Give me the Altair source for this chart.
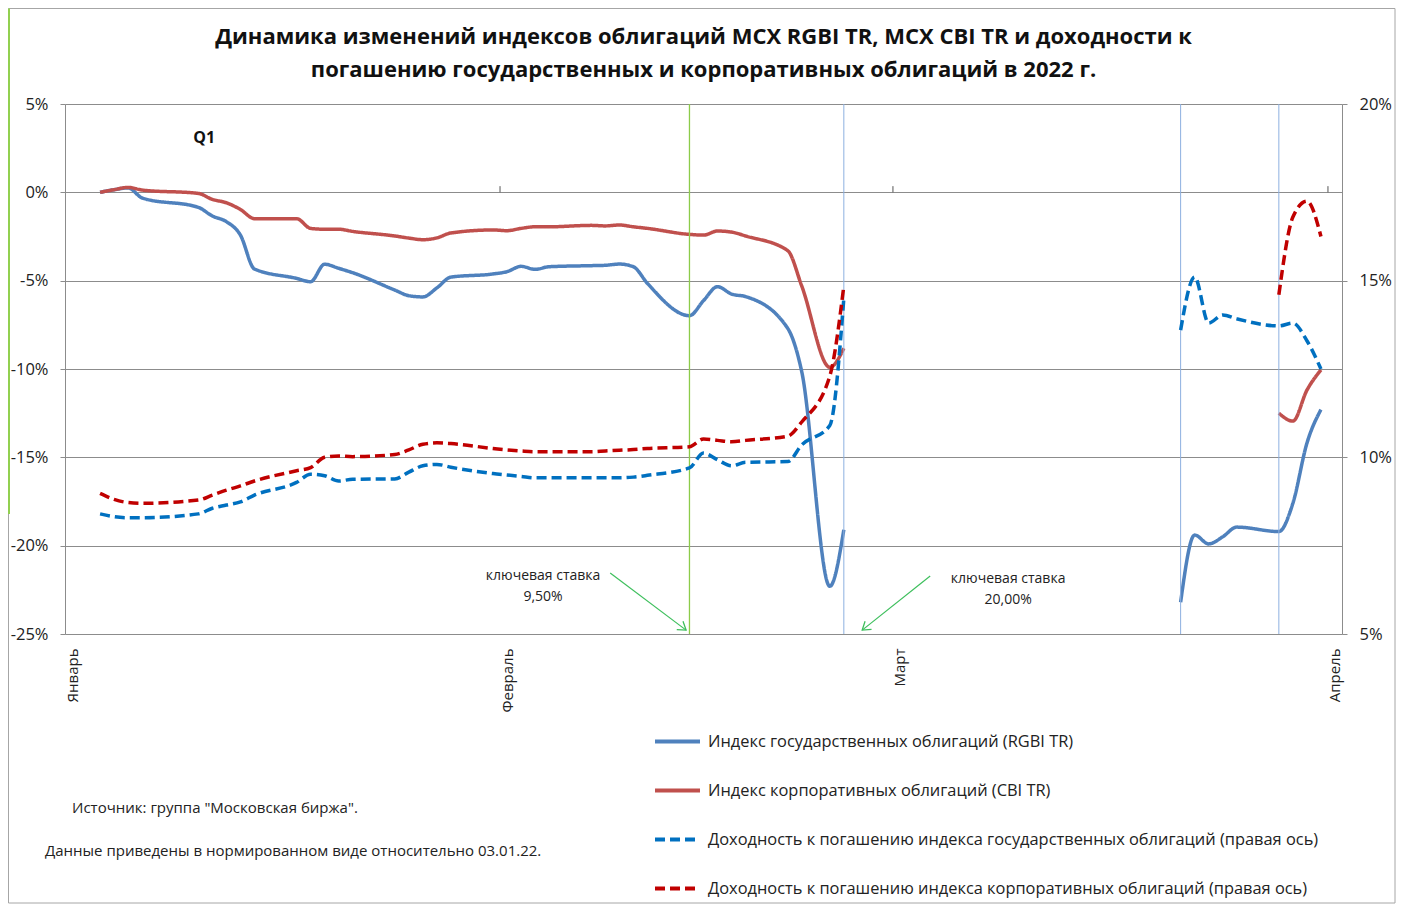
import altair as alt
import pandas as pd

# ---------------- data ----------------
dates_q1 = [
    "2022-01-03", "2022-01-04", "2022-01-05", "2022-01-06",
    "2022-01-10", "2022-01-11", "2022-01-12", "2022-01-13", "2022-01-14",
    "2022-01-17", "2022-01-18", "2022-01-19", "2022-01-20", "2022-01-21",
    "2022-01-24", "2022-01-25", "2022-01-26", "2022-01-27", "2022-01-28",
    "2022-01-31",
    "2022-02-01", "2022-02-02", "2022-02-03", "2022-02-04",
    "2022-02-07", "2022-02-08", "2022-02-09", "2022-02-10", "2022-02-11",
    "2022-02-14", "2022-02-15", "2022-02-16", "2022-02-17", "2022-02-18",
    "2022-02-21", "2022-02-22", "2022-02-24", "2022-02-25",
]
dates_mar_ofz = ["2022-03-21", "2022-03-22", "2022-03-23", "2022-03-24", "2022-03-25",
                 "2022-03-28", "2022-03-29", "2022-03-30", "2022-03-31"]
dates_mar_corp = ["2022-03-28", "2022-03-29", "2022-03-30", "2022-03-31"]

# index change vs 03.01.22, %  (left axis)
rgbi_q1 = [0.0, 0.15, 0.25, -0.32, -0.85, -1.34, -1.66, -2.42, -4.34, -4.87,
           -5.06, -4.07, -4.30, -4.55, -5.53, -5.85, -5.92, -5.41, -4.80, -4.62,
           -4.49, -4.19, -4.36, -4.21, -4.15, -4.13, -4.06, -4.21, -5.15, -6.98,
           -6.13, -5.34, -5.76, -5.90, -7.70, -10.15, -22.3, -19.1]
rgbi_mar = [-23.2, -19.4, -19.9, -19.5, -18.95, -19.2, -17.6, -14.2, -12.3]
cbi_q1 = [0.0, 0.15, 0.28, 0.13, -0.06, -0.40, -0.59, -0.97, -1.49, -1.49,
          -2.04, -2.09, -2.09, -2.21, -2.47, -2.59, -2.68, -2.58, -2.30, -2.13,
          -2.17, -2.04, -1.95, -1.95, -1.87, -1.90, -1.85, -1.95, -2.04, -2.38,
          -2.42, -2.19, -2.25, -2.47, -3.30, -5.30, -9.90, -8.83]
cbi_mar = [-12.5, -12.95, -11.2, -10.05]

# yield to maturity, %  (right axis)
ytm_ofz_q1 = [8.40, 8.32, 8.29, 8.29, 8.40, 8.56, 8.65, 8.74, 8.93, 9.29,
              9.52, 9.48, 9.33, 9.38, 9.39, 9.58, 9.76, 9.80, 9.72, 9.54,
              9.50, 9.46, 9.42, 9.42, 9.42, 9.42, 9.42, 9.44, 9.49, 9.70,
              10.12, 9.93, 9.76, 9.86, 9.88, 10.35, 10.9, 14.5]
ytm_ofz_mar = [13.6, 15.1, 13.8, 14.03, 13.92, 13.72, 13.8, 13.3, 12.5]
ytm_corp_q1 = [8.98, 8.81, 8.72, 8.70, 8.79, 8.93, 9.07, 9.19, 9.33, 9.62,
               9.71, 10.00, 10.04, 10.02, 10.08, 10.21, 10.37, 10.41, 10.39, 10.25,
               10.21, 10.18, 10.16, 10.16, 10.16, 10.18, 10.20, 10.22, 10.25, 10.30,
               10.52, 10.48, 10.44, 10.48, 10.60, 11.0, 12.3, 14.85]
ytm_corp_mar = [14.6, 16.8, 17.25, 16.25]

series_names = [
    "Индекс государственных облигаций (RGBI TR)",
    "Индекс корпоративных облигаций (CBI TR)",
    "Доходность к погашению индекса государственных облигаций (правая ось)",
    "Доходность к погашению индекса корпоративных облигаций (правая ось)",
]
series_colors = ["#4F81BD", "#C0504D", "#0070C0", "#C00000"]
series_dash = [[1, 0], [1, 0], [10, 5], [10, 5]]

month_labels = ["Январь", "Февраль", "Март", "Апрель"]

# events (vertical lines)
green_line_dates = ["2022-02-14"]
blue_line_dates = ["2022-02-25", "2022-03-21", "2022-03-28"]
month_bounds = ["2022-01-31T12:00:00", "2022-02-28T12:00:00", "2022-03-31T12:00:00"]

# annotations
q1_label = ["Q1"]
q1_date = ["2022-01-10T10:00:00"]
q1_val = [3.07]
kr_labels = ["ключевая ставка\n9,50%", "ключевая ставка\n20,00%"]
kr_dates = ["2022-02-03T13:40:00", "2022-03-08T17:00:00"]
kr_vals = [-21.74, -21.88]
arrow_from_dates = ["2022-02-08T08:24:00", "2022-03-03T03:40:00"]
arrow_from_vals = [-21.55, -21.72]
arrow_to_dates = ["2022-02-13T18:14:00", "2022-02-26T07:26:00"]
arrow_to_vals = [-24.78, -24.78]
arrow_angles = [127, 231.5]

title_lines = [
    "Динамика изменений индексов  облигаций  MCX RGBI TR, MCX CBI TR и доходности к",
    "погашению государственных и корпоративных облигаций в 2022 г.",
]
note_source = "Источник: группа \"Московская биржа\"."
note_norm = "Данные приведены  в нормированном виде относительно 03.01.22."


# ---------------- tables ----------------
def ts(d):
    return d if "T" in d else d + "T00:00:00"


def seg(dates, vals, name, part):
    return pd.DataFrame({"date": [ts(d) for d in dates], "value": vals,
                         "series": name, "part": part})


left_df = pd.concat([
    seg(dates_q1, rgbi_q1, series_names[0], "a"),
    seg(dates_mar_ofz, rgbi_mar, series_names[0], "b"),
    seg(dates_q1, cbi_q1, series_names[1], "a"),
    seg(dates_mar_corp, cbi_mar, series_names[1], "b"),
], ignore_index=True)
right_df = pd.concat([
    seg(dates_q1, ytm_ofz_q1, series_names[2], "a"),
    seg(dates_mar_ofz, ytm_ofz_mar, series_names[2], "b"),
    seg(dates_q1, ytm_corp_q1, series_names[3], "a"),
    seg(dates_mar_corp, ytm_corp_mar, series_names[3], "b"),
], ignore_index=True)

FONT = "Open Sans"
GRID = "#8C8C8C"

x_scale = alt.Scale(domain=[alt.DateTime(year=2021, month=12, date=31, hours=12),
                            alt.DateTime(year=2022, month=4, date=1, hours=12)])
x_axis = alt.Axis(
    values=[alt.DateTime(year=2022, month=m, date=1) for m in (1, 2, 3, 4)],
    labelExpr="['Январь','Февраль','Март','Апрель'][month(datum.value)]",
    labelAngle=-90, ticks=False, tickSize=0, domain=False, grid=False,
    labelPadding=14, labelFontSize=15, labelFont=FONT, labelColor="#222",
    title=None,
)
X = alt.X("date:T", scale=x_scale, axis=x_axis)

y_left_scale = alt.Scale(domain=[-25, 5], nice=False, zero=False)
y_left_axis = alt.Axis(
    values=[-25, -20, -15, -10, -5, 0, 5], labelExpr="datum.value + '%'",
    orient="left", grid=True, gridColor=GRID, gridWidth=1,
    domainColor=GRID, tickColor=GRID, tickSize=5, labelPadding=12,
    labelFontSize=16.5, labelFont=FONT, labelColor="#222", title=None,
)
y_right_scale = alt.Scale(domain=[5, 20], nice=False, zero=False)
y_right_axis = alt.Axis(
    values=[5, 10, 15, 20], labelExpr="datum.value + '%'",
    orient="right", grid=False, domainColor=GRID, tickColor=GRID, tickSize=5,
    labelPadding=12, labelFontSize=16.5, labelFont=FONT, labelColor="#222", title=None,
)


def XL(field):
    return alt.X(field, scale=x_scale, axis=x_axis)


def YL(field):
    return alt.Y(field, scale=y_left_scale, axis=y_left_axis, title=None)


legend = alt.Legend(
    title=None, orient="none", legendX=588, legendY=613, direction="vertical",
    symbolType="stroke", symbolSize=2025, symbolStrokeWidth=4,
    labelFontSize=16.4, labelFont=FONT, labelColor="#222", labelLimit=0,
    rowPadding=16, labelOffset=6, padding=0,
)
color_enc = alt.Color("series:N", scale=alt.Scale(domain=series_names, range=series_colors),
                      legend=legend, sort=series_names)
dash_enc = alt.StrokeDash("series:N", scale=alt.Scale(domain=series_names, range=series_dash),
                          legend=legend, sort=series_names)

# ---------------- left group ----------------
left_lines = alt.Chart(left_df).mark_line(strokeWidth=3.5, interpolate="monotone").encode(
    x=X, y=YL("value:Q"),
    color=color_enc, strokeDash=dash_enc, detail="part:N",
)

vl_green = alt.Chart(pd.DataFrame({"date": [ts(d) for d in green_line_dates]})).mark_rule(
    stroke="#8CCB4A", color="#8CCB4A", strokeWidth=1.3
).encode(x=XL("date:T"))
vl_blue = alt.Chart(pd.DataFrame({"date": [ts(d) for d in blue_line_dates]})).mark_rule(
    stroke="#8DB0E0", color="#8DB0E0", strokeWidth=1
).encode(x=XL("date:T"))

ticks_df = pd.DataFrame({"date": month_bounds, "y0": [0] * 3, "y1": [0.35] * 3})
month_ticks = alt.Chart(ticks_df).mark_rule(color="#555", strokeWidth=1).encode(
    x=XL("date:T"), y=YL("y0:Q"), y2="y1:Q")

q1 = alt.Chart(pd.DataFrame({"date": q1_date, "v": q1_val, "t": q1_label})).mark_text(
    font=FONT, fontSize=16, fontWeight="bold", color="#111"
).encode(x=XL("date:T"), y=YL("v:Q"), text="t:N")

kr = alt.Chart(pd.DataFrame({"date": kr_dates, "v": kr_vals, "t": kr_labels})).mark_text(
    font=FONT, fontSize=14, color="#222", lineBreak="\n", lineHeight=21, baseline="middle"
).encode(x=XL("date:T"), y=YL("v:Q"), text="t:N")

arrows_df = pd.DataFrame({"d0": arrow_from_dates, "v0": arrow_from_vals,
                          "d1": arrow_to_dates, "v1": arrow_to_vals, "ang": arrow_angles})
arrow_lines = alt.Chart(arrows_df).mark_rule(color="#3DBF5C", strokeWidth=1.2).encode(
    x=XL("d0:T"), y=YL("v0:Q"), x2="d1:T", y2="v1:Q")
arrow_heads = alt.Chart(arrows_df).mark_point(
    shape="M-0.6,0.9L0,0L0.6,0.9", filled=False, color="#3DBF5C", strokeWidth=1.3,
    size=300, opacity=1
).encode(x=XL("d1:T"), y=YL("v1:Q"), angle=alt.Angle("ang:Q", scale=None))

one = pd.DataFrame({"k": [0]})
note1 = alt.Chart(pd.DataFrame({"t": [note_source]})).mark_text(
    font=FONT, fontSize=15, color="#222", align="left", baseline="middle"
).encode(x=alt.value(7), y=alt.value(704), text="t:N")
note2 = alt.Chart(pd.DataFrame({"t": [note_norm]})).mark_text(
    font=FONT, fontSize=15, color="#222", align="left", baseline="middle"
).encode(x=alt.value(-20), y=alt.value(747), text="t:N")

frame = alt.Chart(one).mark_rect(fill=None, stroke="#A6A6A6", strokeWidth=1).encode(
    x=alt.value(-56.5), x2=alt.value(1330), y=alt.value(-95.5), y2=alt.value(799))
frame_green = alt.Chart(one).mark_rule(color="#92D050", strokeWidth=2).encode(
    x=alt.value(-56), y=alt.value(-95.5), y2=alt.value(410))

left = alt.layer(left_lines, vl_green, vl_blue, month_ticks, q1, kr,
                 arrow_lines, arrow_heads, note1, note2, frame, frame_green)

# ---------------- right group ----------------
right = alt.Chart(right_df).mark_line(strokeWidth=3.5, interpolate="monotone").encode(
    x=X,
    y=alt.Y("value:Q", scale=y_right_scale, axis=y_right_axis),
    color=color_enc, strokeDash=dash_enc, detail="part:N",
)

chart = alt.layer(left, right).resolve_scale(y="independent").properties(
    width=1277, height=530,
    autosize=alt.AutoSizeParams(type="none"),
    padding={"left": 57, "top": 96, "right": 56, "bottom": 271},
    title=alt.TitleParams(text=title_lines, fontSize=22, font=FONT, fontWeight="bold",
                          color="#111", anchor="middle", lineHeight=33, offset=-74,
                          frame="group"),
).configure_view(stroke=None).configure(background="white")

chart.save("out.html", embed_options={"renderer": "svg", "actions": False})
